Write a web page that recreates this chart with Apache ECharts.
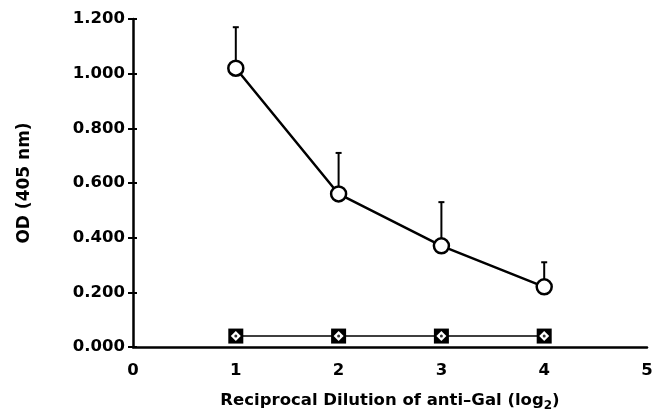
<!DOCTYPE html>
<html>
<head>
<meta charset="utf-8">
<script src="https://cdn.jsdelivr.net/npm/echarts@6/dist/echarts.min.js"></script>
<style>
  html, body { margin: 0; padding: 0; background: #fff; }
  #chart { width: 667px; height: 417px; }
</style>
</head>
<body>
<div id="chart"></div>
<script>
// Dilution steps (log2) and measured optical density
const dilutions = [1, 2, 3, 4];
const antiGalMean = [1.02, 0.56, 0.37, 0.22];
const antiGalSD = [0.15, 0.15, 0.16, 0.09];
const controlSquare = [0.04, 0.04, 0.04, 0.04];
const controlDiamond = [0.04, 0.04, 0.04, 0.04];
const xTicks = [0, 1, 2, 3, 4, 5];
const yTicks = [0, 0.2, 0.4, 0.6, 0.8, 1.0, 1.2];

const FONT = 'DejaVu Sans';
const pairs = (ys) => dilutions.map((x, i) => [x, ys[i]]);

const chart = echarts.init(document.getElementById('chart'), null, { renderer: 'canvas' });

const yBase = {
  type: 'value',
  min: yTicks[0],
  max: yTicks[yTicks.length - 1],
  interval: 0.2,
  splitLine: { show: false }
};

chart.setOption({
  backgroundColor: '#fff',
  animation: false,
  grid: { left: 133, right: 20, top: 19, bottom: 70, containLabel: false, outerBoundsMode: 'none' },
  xAxis: {
    type: 'value',
    min: xTicks[0],
    max: xTicks[xTicks.length - 1],
    interval: 1,
    splitLine: { show: false },
    axisTick: { show: false },
    axisLine: { onZero: false, lineStyle: { color: '#000', width: 2.5 } },
    axisLabel: { color: '#000', fontFamily: FONT, fontWeight: 'bold', fontSize: 16.5, margin: 15 },
    name: 'Reciprocal Dilution of anti\u2013Gal (log{sub|2})',
    nameLocation: 'middle',
    nameGap: 42,
    nameTextStyle: {
      color: '#000', fontFamily: FONT, fontWeight: 'bold', fontSize: 16.5,
      rich: {
        sub: { fontFamily: FONT, fontWeight: 'bold', fontSize: 12, color: '#000', padding: [11, 0, 0, 0] }
      }
    }
  },
  yAxis: [
    Object.assign({}, yBase, {
      axisLine: { show: true, lineStyle: { color: '#000', width: 2.5 } },
      axisTick: { show: true, length: 5, lineStyle: { color: '#000', width: 2 } },
      axisLabel: {
        color: '#000', fontFamily: FONT, fontWeight: 'bold', fontSize: 16.5, margin: 8,
        formatter: (v) => v.toFixed(3)
      },
      name: 'OD (405 nm)',
      nameLocation: 'middle',
      nameGap: 100,
      nameTextStyle: { color: '#000', fontFamily: FONT, fontWeight: 'bold', fontSize: 17 }
    }),
    Object.assign({}, yBase, {
      position: 'left',
      axisLine: { show: false },
      axisTick: { show: true, inside: true, length: 4, lineStyle: { color: '#000', width: 2 } },
      axisLabel: { show: false }
    })
  ],
  series: [
    {
      // upward error bars (mean + SD)
      type: 'custom',
      z: 1,
      data: dilutions.map((x, i) => [x, antiGalMean[i], antiGalMean[i] + antiGalSD[i]]),
      renderItem: (params, api) => {
        const base = api.coord([api.value(0), api.value(1)]);
        const top = api.coord([api.value(0), api.value(2)]);
        const cap = 3;
        const style = { stroke: '#000', lineWidth: 2 };
        return {
          type: 'group',
          children: [
            { type: 'line', shape: { x1: base[0], y1: base[1], x2: top[0], y2: top[1] }, style },
            { type: 'line', shape: { x1: top[0] - cap, y1: top[1], x2: top[0] + cap, y2: top[1] }, style }
          ]
        };
      }
    },
    {
      name: 'anti-Gal',
      type: 'line',
      z: 3,
      data: pairs(antiGalMean),
      symbol: 'circle',
      symbolSize: 15,
      lineStyle: { color: '#000', width: 2.5 },
      itemStyle: { color: '#fff', borderColor: '#000', borderWidth: 2.5 }
    },
    {
      name: 'control A',
      type: 'line',
      z: 3,
      data: pairs(controlSquare),
      symbol: 'rect',
      symbolSize: 15,
      lineStyle: { color: '#000', width: 1.5 },
      itemStyle: { color: '#000', borderColor: '#000', borderWidth: 0 }
    },
    {
      name: 'control B',
      type: 'line',
      z: 4,
      data: pairs(controlDiamond),
      symbol: 'diamond',
      symbolSize: 10,
      lineStyle: { width: 0, opacity: 0 },
      itemStyle: { color: '#fff', borderWidth: 0 }
    },
    {
      // centre dot of the overlapping control markers
      name: 'control B centre',
      type: 'scatter',
      z: 5,
      data: pairs(controlDiamond),
      symbol: 'circle',
      symbolSize: 3,
      itemStyle: { color: '#000' }
    }
  ]
});
</script>
</body>
</html>
